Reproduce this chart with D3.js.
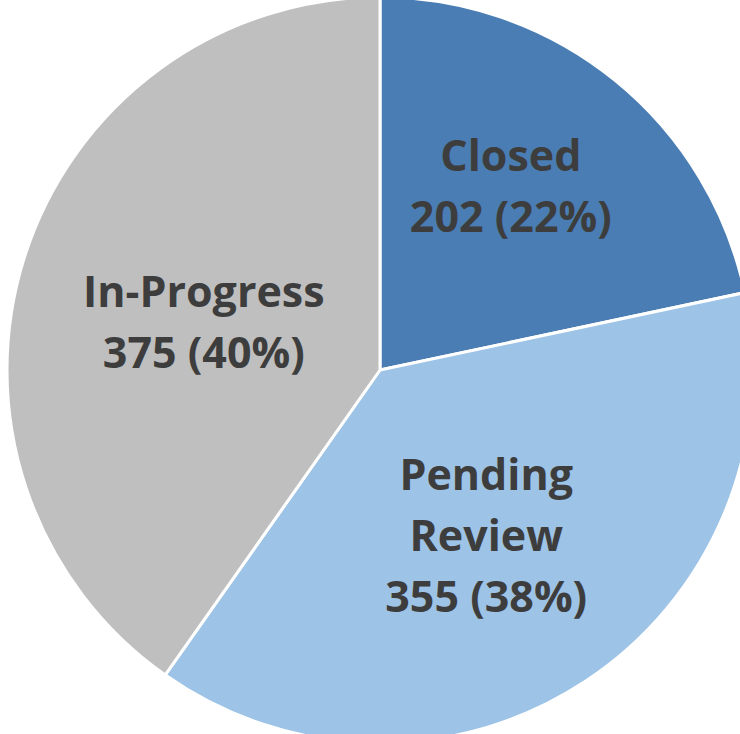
<!DOCTYPE html>
<html>
<head>
<meta charset="utf-8">
<script src="https://cdn.jsdelivr.net/npm/d3@7"></script>
<style>
  body { margin: 0; background: #fff; overflow: hidden; }
  text { font-family: "Open Sans", sans-serif; font-weight: 700; fill: #3d3d3d; }
</style>
</head>
<body>
<div id="chart"></div>
<script>
// data
var categories = ["Closed", "Pending Review", "In-Progress"];
var values = [202, 355, 375];
var labelLines = [["Closed"], ["Pending", "Review"], ["In-Progress"]];
var colors = ["#4a7db3", "#9dc3e6", "#bfbfbf"];
// small label nudges (px) to match placement
var nudges = [[-2, -5], [-10, 5], [25, 31]];

var width = 740, height = 734;
var cx = 380, cy = 370, radius = 373;

var svg = d3.select("#chart")
  .append("svg")
  .attr("width", width)
  .attr("height", height)
  .append("g")
  .attr("transform", "translate(" + cx + "," + cy + ")");

var data = categories.map(function(c, i) { return {name: c, value: values[i], lines: labelLines[i], i: i}; });
var total = d3.sum(values);

var pie = d3.pie().sort(null).value(function(d) { return d.value; });
var arc = d3.arc().innerRadius(0).outerRadius(radius);
var labelArc = d3.arc().innerRadius(211 * 2).outerRadius(0);

var arcs = pie(data);

svg.selectAll("path")
  .data(arcs)
  .enter()
  .append("path")
  .attr("d", arc)
  .attr("fill", function(d) { return colors[d.data.i]; })
  .attr("stroke", "#fff")
  .attr("stroke-width", 3)
  .attr("stroke-linejoin", "round");

var lineH = 61;
var fontSize = 43;

var labels = svg.selectAll(".lbl")
  .data(arcs)
  .enter()
  .append("text")
  .attr("class", "lbl")
  .attr("text-anchor", "middle")
  .attr("font-size", fontSize + "px")
  .attr("transform", function(d) {
    var c = labelArc.centroid(d);
    var n = nudges[d.data.i];
    return "translate(" + (c[0] + n[0]) + "," + (c[1] + n[1]) + ")";
  });

// anchor point = middle baseline of the label block
labels.each(function(d) {
  var lines = d.data.lines.concat([d.data.value + " (" + Math.round(d.data.value / total * 100) + "%)"]);
  var t = d3.select(this);
  var y0 = -(lines.length - 1) * lineH / 2;
  lines.forEach(function(l, k) {
    t.append("tspan")
      .attr("x", 0)
      .attr("y", y0 + k * lineH)
      .text(l);
  });
});
</script>
</body>
</html>
